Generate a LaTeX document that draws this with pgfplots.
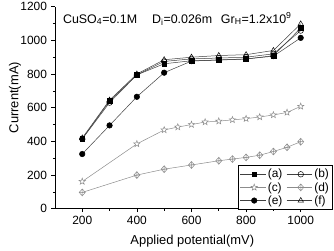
\documentclass[border=0pt]{standalone}
\usepackage{fontspec}
\setmainfont{Liberation Sans}
\usepackage{pgfplots}
\pgfplotsset{compat=1.18}
\usetikzlibrary{plotmarks}

% diamond with a cross inside
\pgfdeclareplotmark{dplus}{%
  \pgfpathmoveto{\pgfqpoint{0pt}{1.25\pgfplotmarksize}}%
  \pgfpathlineto{\pgfqpoint{1.1\pgfplotmarksize}{0pt}}%
  \pgfpathlineto{\pgfqpoint{0pt}{-1.25\pgfplotmarksize}}%
  \pgfpathlineto{\pgfqpoint{-1.1\pgfplotmarksize}{0pt}}%
  \pgfpathclose
  \pgfpathmoveto{\pgfqpoint{0pt}{1.25\pgfplotmarksize}}%
  \pgfpathlineto{\pgfqpoint{0pt}{-1.25\pgfplotmarksize}}%
  \pgfpathmoveto{\pgfqpoint{-1.1\pgfplotmarksize}{0pt}}%
  \pgfpathlineto{\pgfqpoint{1.1\pgfplotmarksize}{0pt}}%
  \pgfusepathqstroke}

% open five-pointed star
\pgfdeclareplotmark{ostar}{%
  \pgfpathmoveto{\pgfpointpolar{90}{1.2\pgfplotmarksize}}%
  \pgfpathlineto{\pgfpointpolar{126}{0.5\pgfplotmarksize}}%
  \pgfpathlineto{\pgfpointpolar{162}{1.2\pgfplotmarksize}}%
  \pgfpathlineto{\pgfpointpolar{198}{0.5\pgfplotmarksize}}%
  \pgfpathlineto{\pgfpointpolar{234}{1.2\pgfplotmarksize}}%
  \pgfpathlineto{\pgfpointpolar{270}{0.5\pgfplotmarksize}}%
  \pgfpathlineto{\pgfpointpolar{306}{1.2\pgfplotmarksize}}%
  \pgfpathlineto{\pgfpointpolar{342}{0.5\pgfplotmarksize}}%
  \pgfpathlineto{\pgfpointpolar{18}{1.2\pgfplotmarksize}}%
  \pgfpathlineto{\pgfpointpolar{54}{0.5\pgfplotmarksize}}%
  \pgfpathclose
  \pgfusepathqfillstroke}

\definecolor{dk}{gray}{0.25}
\definecolor{lg}{gray}{0.55}

\begin{document}
\begin{tikzpicture}
\begin{axis}[
  name=ax,
  scale only axis,
  width=273.4bp, height=202.3bp,
  xmin=100, xmax=1100, ymin=0, ymax=1200,
  axis lines=left,
  axis line style={-, line width=0.6pt},
  xtick={200,400,600,800,1000},
  ytick={0,200,400,600,800,1000,1200},
  minor x tick num=1, minor y tick num=1,
  tick align=outside,
  major tick length=3.5pt, minor tick length=2pt,
  tick style={black, line width=0.6pt},
  ticklabel style={font=\fontsize{12}{14}\selectfont},
  yticklabel style={xshift=-1pt},
  /pgf/number format/assume math mode=true,
  /pgf/number format/1000 sep={},
  xlabel={Applied potential(mV)},
  ylabel={Current(mA)},
  label style={font=\fontsize{13}{15}\selectfont},
  xlabel style={at={(axis description cs:0.503,0)}, anchor=center, yshift=-32bp},
  ylabel style={at={(axis description cs:0,0.55)}, anchor=center, yshift=40bp},
  clip=false,
  mark size=2.8pt,
  legend columns=2,
  legend style={at={(rel axis cs:1.017,-0.003)}, anchor=south east,
    font=\fontsize{12}{14}\selectfont, draw=black, line width=0.5pt,
    inner sep=1.5pt, row sep=-1pt,
    /tikz/every even column/.append style={column sep=2pt}},
  legend cell align=left,
  legend image code/.code={%
    \draw[#1] (0cm,0cm) -- (0.9cm,0cm);
    \draw[#1, only marks] plot coordinates {(0.5cm,0cm)};},
]
% (a)
\addplot[dk, line width=0.5pt, mark=square*, mark options={black, fill=black, scale=0.85}]
  coordinates {(200,415) (300,640) (400,795) (500,861) (600,879) (700,883) (800,889) (900,909) (1000,1073)};
\addlegendentry{(a)}
% (b)
\addplot[dk, line width=0.5pt, mark=o, mark options={black, fill=white}]
  coordinates {(200,415) (300,630) (400,795) (500,875) (600,890) (700,895) (800,900) (900,920) (1000,1058)};
\addlegendentry{(b)}
% (c)
\addplot[lg, line width=0.5pt, mark=ostar, mark options={lg, fill=white}]
  coordinates {(200,162) (400,385) (500,468) (550,485) (600,500) (650,515) (700,520) (750,528) (800,535) (850,545) (900,557) (950,572) (1000,608)};
\addlegendentry{(c)}
% (d)
\addplot[lg, line width=0.5pt, mark=dplus, mark options={lg}]
  coordinates {(200,97) (400,200) (500,235) (600,260) (700,285) (750,295) (800,305) (850,318) (900,340) (950,365) (1000,398)};
\addlegendentry{(d)}
% (e)
\addplot[dk, line width=0.5pt, mark=*, mark options={black, fill=black}]
  coordinates {(200,325) (300,495) (400,665) (500,808) (600,877) (700,884) (800,890) (900,906) (1000,1015)};
\addlegendentry{(e)}
% (f)
\addplot[dk, line width=0.5pt, mark=triangle, mark options={black, fill=white, scale=1.1}]
  coordinates {(200,420) (300,645) (400,800) (500,885) (600,900) (700,910) (800,915) (900,940) (1000,1098)};
\addlegendentry{(f)}

\node[anchor=west, font=\fontsize{12.5}{14}\selectfont, inner sep=0pt] at (axis cs:129,1127)
  {CuSO\textsubscript{4}=0.1M\hspace{1.2em}D\textsubscript{i}=0.026m\hspace{0.7em}Gr\textsubscript{H}=1.2x10\textsuperscript{9}};
\end{axis}
\pgfresetboundingbox
\path[use as bounding box] ([xshift=-55bp,yshift=-42bp]ax.south west) rectangle ([xshift=6bp,yshift=6.7bp]ax.north east);
\end{tikzpicture}
\end{document}
